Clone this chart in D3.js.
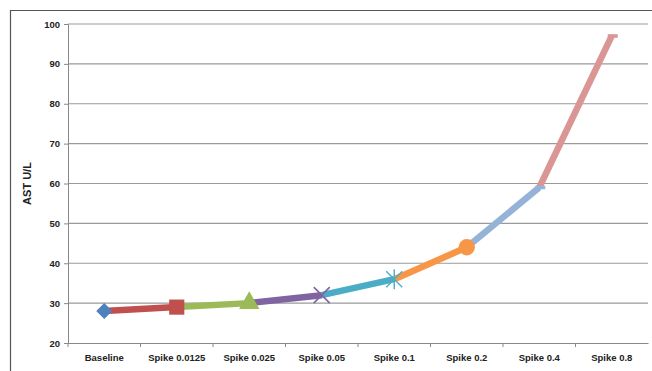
<!DOCTYPE html>
<html>
<head>
<meta charset="utf-8">
<script src="https://cdn.jsdelivr.net/npm/d3@7"></script>
<style>
  body { margin: 0; background: #fff; }
  text { font-family: "Liberation Sans", Arial, sans-serif; font-weight: bold; fill: #222; }
</style>
</head>
<body>
<div id="graph"></div>
<script>
// data
var categories = ['Baseline', 'Spike 0.0125', 'Spike 0.025', 'Spike 0.05',
                  'Spike 0.1', 'Spike 0.2', 'Spike 0.4', 'Spike 0.8'];
var astValues = [28, 29, 30, 32, 36, 44, 59, 97];
var yTicks = [20, 30, 40, 50, 60, 70, 80, 90, 100];
var markers = ['diamond', 'square', 'triangle', 'cross', 'star', 'circle', 'dash', 'dash'];
var colors = ['#4f81bd', '#c0504d', '#9bbb59', '#8064a2', '#4bacc6', '#f79646', '#95b3d7', '#d99694'];

var w = 652, h = 371;
var vis = d3.select("#graph").append("svg").attr("width", w).attr("height", h);

// outer frame
vis.append("path")
   .attr("d", "M10.5," + h + "V10.5H" + w)
   .attr("fill", "none").attr("stroke", "#555").attr("stroke-width", 1.2);

// plot area (note: "top" is taken by window.top, so prefix these)
var pLeft = 68, pRight = 648, pTop = 24, pBottom = 343;

var x = d3.scaleBand().domain(categories).range([pLeft, pRight]);
var y = d3.scaleLinear().domain([20, 100]).range([pBottom, pTop]);

// gridlines
vis.selectAll("line.grid")
   .data(yTicks.slice(1))
   .enter().append("line")
   .attr("class", "grid")
   .attr("x1", pLeft).attr("x2", pRight)
   .attr("y1", d => y(d)).attr("y2", d => y(d))
   .attr("stroke", "#9a9a9a").attr("stroke-width", 1.2);

// y axis
var yAxis = vis.append("g").attr("transform", "translate(" + pLeft + ",0)")
   .call(d3.axisLeft(y).tickValues(yTicks).tickSize(4).tickPadding(4));
yAxis.select(".domain").attr("stroke", "#888");
yAxis.selectAll(".tick line").attr("stroke", "#888");
yAxis.selectAll("text").style("font-size", "9.5px").attr("fill", "#222");

// x axis with ticks at band edges
var xAxis = vis.append("g").attr("transform", "translate(0," + pBottom + ")")
   .call(d3.axisBottom(x).tickSize(0).tickPadding(11));
xAxis.select(".domain").attr("stroke", "#888").attr("stroke-width", 1.2);
xAxis.selectAll("text").style("font-size", "9.5px").attr("fill", "#222");
xAxis.selectAll("line.edge")
   .data(categories)
   .enter().append("line")
   .attr("class", "edge")
   .attr("x1", d => x(d)).attr("x2", d => x(d))
   .attr("y1", 0).attr("y2", 4)
   .attr("stroke", "#888");

// axis title
vis.append("text")
   .attr("transform", "translate(31," + ((pTop + pBottom) / 2) + ") rotate(-90)")
   .attr("text-anchor", "middle")
   .style("font-size", "11px")
   .text("AST U/L");

var px = i => x(categories[i]) + x.bandwidth() / 2;
var py = i => y(astValues[i]);

// segments, each coloured like the point it runs into
vis.selectAll("line.seg")
   .data(d3.range(1, astValues.length))
   .enter().append("line")
   .attr("class", "seg")
   .attr("x1", i => px(i - 1)).attr("y1", i => py(i - 1))
   .attr("x2", i => px(i)).attr("y2", i => py(i))
   .attr("stroke", i => colors[i]).attr("stroke-width", 6.5);

// markers
var symbolOf = { square: d3.symbolSquare, triangle: d3.symbolTriangle, circle: d3.symbolCircle };
astValues.forEach(function(v, i) {
  var g = vis.append("g").attr("transform", "translate(" + px(i) + "," + py(i) + ")");
  var m = markers[i], c = colors[i];
  if (symbolOf[m]) {
    var size = { square: 230, triangle: 180, circle: 210 }[m];
    g.append("path").attr("d", d3.symbol(symbolOf[m], size)()).attr("fill", c);
  } else if (m === 'diamond') {
    g.append("path").attr("d", "M0,-8L8,0L0,8L-8,0Z").attr("fill", c);
  } else if (m === 'cross') {
    g.append("path").attr("d", "M-8,-8L8,8M-8,8L8,-8")
     .attr("stroke", c).attr("stroke-width", 1.6);
  } else if (m === 'star') {
    g.append("path").attr("d", "M-8,-8L8,8M-8,8L8,-8M0,-10V10")
     .attr("stroke", c).attr("stroke-width", 1.4);
  } else if (m === 'dash') {
    g.append("path").attr("d", "M-4,0H6").attr("stroke", c).attr("stroke-width", 3.5);
  }
});
</script>
</body>
</html>
